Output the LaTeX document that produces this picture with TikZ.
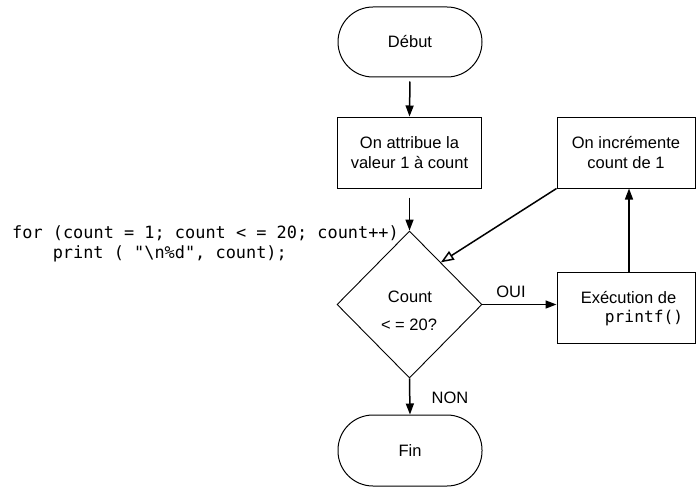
\documentclass[tikz,border=0pt]{standalone}
\usepackage{fontspec}
\setmainfont{Liberation Sans}
\newfontfamily\codefont{DejaVu Sans Mono}
\usetikzlibrary{shapes.geometric,arrows.meta,calc}
\begin{document}
\begin{tikzpicture}[x=1pt,y=-1pt,
  font=\fontsize{16.5}{20}\selectfont,
  term/.style={draw, line width=1pt, rounded corners=35pt, minimum width=144pt, minimum height=70pt, inner sep=0pt},
  proc/.style={draw, line width=1pt, minimum height=71pt, align=center, inner sep=0pt},
  dec/.style={draw, diamond, line width=0.9pt, minimum width=145pt, minimum height=147pt, inner sep=0pt},
  txt/.style={inner sep=0pt},
  code/.style={inner sep=0pt, anchor=base west, font=\codefont\fontsize{16.9}{20}\selectfont},
  conn/.style={line width=1.5pt, -{Triangle[length=11pt,width=8pt]}},
  openconn/.style={line width=1.5pt, -{Triangle[open,length=13pt,width=10pt,fill=white]}}
]
\useasboundingbox (0,0) rectangle (696,487);

\node[term] (debut) at (410,42) {Début};
\node[proc, minimum width=144.5pt] (attr) at (409.5,152.5) {On attribue la\\valeur 1 à count};
\node[dec] (dec) at (409.5,304.5) {};
\node[txt] (t1) at (410,297) {Count};
\node[txt] (t2) at (409,325) {< = 20?};
\node[proc, minimum width=138pt] (incr) at (626,152.5) {On incrémente\\count de 1};
\node[proc, minimum width=138pt] (exec) at (626,307.5) {};
\node[txt] (e1) at (628.5,298) {Exécution de};
\node[txt, font=\codefont\fontsize{16.2}{20}\selectfont] (e2) at (644,318) {printf()};
\node[term, minimum height=71pt] (fin) at (410,450.5) {Fin};

\node[code] (c1) at (12,238) {for (count = 1; count < = 20; count++)};
\node[code] (c2) at (52.6,258) {print ( "\textbackslash n\%d", count);};

\node[txt] (oui) at (511,292) {OUI};
\node[txt] (non) at (450,398) {NON};

\coordinate (tip) at ($(dec.north)!0.43!(dec.east)$);

\draw[conn, shorten <=4pt] (debut.south) -- (attr.north);
\draw[conn, shorten <=9pt] (attr.south) -- (dec.north);
\draw[conn] (dec.east) -- (dec.east -| exec.west);
\draw[conn] ([xshift=3pt]exec.north) -- ([xshift=3pt]incr.south);
\draw[openconn] (incr.south west) -- (tip);
\draw[conn] (dec.south) -- (fin.north);
\end{tikzpicture}
\end{document}
